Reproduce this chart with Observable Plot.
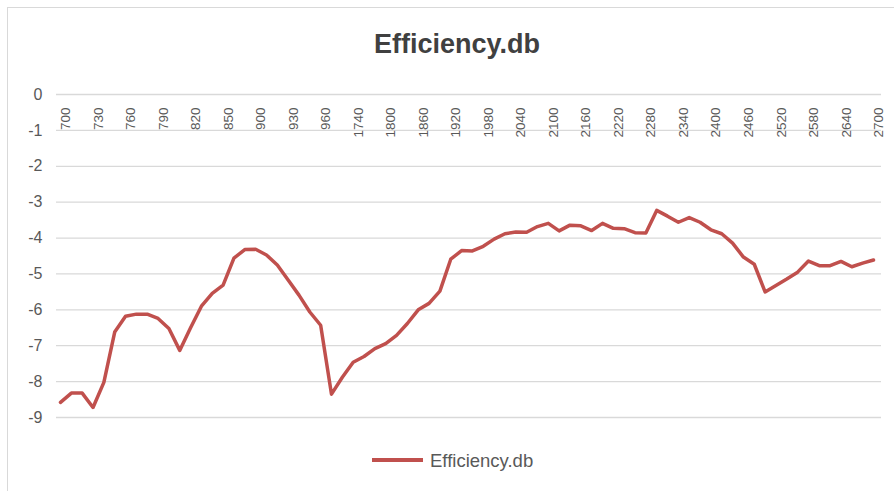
<!DOCTYPE html>
<html><head><meta charset="utf-8">
<script src="https://cdn.jsdelivr.net/npm/d3@7"></script>
<script src="https://cdn.jsdelivr.net/npm/@observablehq/plot@0.6"></script>
<style>
body{margin:0;background:#fff;font-family:"Liberation Sans",Arial,sans-serif;}
#wrap{position:relative;width:894px;height:491px;overflow:hidden;background:#fff;}
#frame{position:absolute;left:7px;top:7px;width:900px;height:500px;border:1px solid #d9d9d9;box-sizing:border-box;}
#chart{position:absolute;left:0;top:0;}
#title{position:absolute;left:0;width:914px;top:28px;text-align:center;font-weight:bold;font-size:27px;color:#404040;line-height:32px;}
#legend{position:absolute;left:372px;top:449px;font-size:18.5px;color:#595959;line-height:24px;white-space:nowrap;}
#legend .sw{display:inline-block;width:51px;height:4px;background:#C0504D;vertical-align:middle;margin-right:7px;position:relative;top:-2px;}
</style>
</head><body>
<div id="wrap">
  <div id="frame"></div>
  <div id="chart"></div>
  <div id="title">Efficiency.db</div>
  <div id="legend"><span class="sw"></span>Efficiency.db</div>
</div>
<script>
const categories = ["700","710","720","730","740","750","760","770","780","790","800","810","820","830","840","850",
  "860","880","900","910","920","930","940","950","960","1700","1720",
  "1740","1760","1780","1800","1820","1840","1860","1880","1900","1920","1940","1960","1980","2000","2020","2040",
  "2060","2080","2100","2120","2140","2160","2180","2200","2220","2240","2260","2280","2300","2320","2340","2360",
  "2380","2400","2420","2440","2460","2480","2500","2520","2540","2560","2580","2600","2620","2640","2660","2680","2700"];
const efficiencyDb = [-8.58,-8.32,-8.32,-8.72,-8.02,-6.62,-6.18,-6.12,-6.12,-6.24,-6.52,-7.13,-6.5,-5.9,-5.54,-5.31,
  -4.56,-4.32,-4.31,-4.47,-4.75,-5.17,-5.59,-6.06,-6.43,-8.35,-7.88,
  -7.46,-7.3,-7.08,-6.94,-6.71,-6.38,-6.0,-5.82,-5.48,-4.59,-4.35,-4.36,-4.23,-4.03,-3.88,-3.83,
  -3.84,-3.68,-3.59,-3.8,-3.64,-3.66,-3.79,-3.59,-3.73,-3.74,-3.85,-3.86,-3.23,-3.39,-3.56,-3.43,
  -3.56,-3.77,-3.88,-4.14,-4.53,-4.73,-5.5,-5.32,-5.14,-4.95,-4.64,-4.77,-4.77,-4.65,-4.8,-4.7,-4.61];
const xTickLabels = ["700","730","760","790","820","850","900","930","960","1740","1800","1860","1920","1980",
  "2040","2100","2160","2220","2280","2340","2400","2460","2520","2580","2640","2700"];
const yTicks = [0,-1,-2,-3,-4,-5,-6,-7,-8,-9];

const data = categories.map((c, i) => ({category: c, value: efficiencyDb[i]}));

const chart = Plot.plot({
  width: 894, height: 491,
  marginTop: 94, marginBottom: 74, marginLeft: 56, marginRight: 13,
  style: {fontFamily: '"Liberation Sans", Arial, sans-serif', background: "transparent"},
  x: {type: "point", domain: categories, range: [60, 873], padding: 0, axis: null},
  y: {domain: [-9, 0], axis: null},
  marks: [
    Plot.gridY(yTicks, {stroke: "#d9d9d9", strokeOpacity: 1, strokeWidth: 1.3}),
    Plot.axisY(yTicks, {tickSize: 0, tickPadding: 14, tickFormat: d => String(d), fontSize: 16, fill: "#595959", label: null}),
    Plot.text(xTickLabels, {x: d => d, frameAnchor: "top", dy: 13, rotate: -90, textAnchor: "end", fontSize: 13.5, fill: "#595959"}),
    Plot.line(data, {x: "category", y: "value", stroke: "#C0504D", strokeWidth: 3.5, strokeLinejoin: "round"})
  ]
});
document.getElementById("chart").appendChild(chart);
</script>
</body></html>
